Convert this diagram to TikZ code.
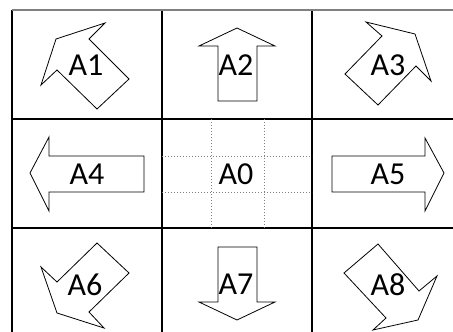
\documentclass[tikz,border=0pt]{standalone}
\usepackage{fontspec}
\setmainfont{Carlito}

\begin{document}
\begin{tikzpicture}[x=1pt,y=-1pt,
    cellline/.style={line width=1.2pt},
    topline/.style={line width=1.6pt,gray},
    subgrid/.style={gray,line width=0.6pt,dash pattern=on 0.8pt off 2.2pt},
    arrowshape/.style={line width=0.8pt,line join=miter},
    dirlabel/.style={inner sep=0pt,font=\fontsize{32}{38}\selectfont}]
    \useasboundingbox (0,0) rectangle (453,332);
    \clip (0,0) rectangle (453,332);
    \foreach \x in {12,162,312,462}
       \draw[cellline] (\x,10) -- (\x,337);
    \foreach \y in {119,228,337}
       \draw[cellline] (12,\y) -- (462,\y);
    \draw[topline] (12,10) -- (462,10);
    \foreach \x in {211,264}
       \draw[subgrid] (\x,119) -- (\x,228);
    \foreach \y in {156,192}
       \draw[subgrid] (162,\y) -- (312,\y);
    % straight arrows
    \draw[arrowshape] (237,28) -- (275,46) -- (257,46) -- (257,101) -- (218,101) -- (218,46) -- (199,46) -- cycle;
    \draw[arrowshape] (237,320) -- (275,302) -- (257,302) -- (257,247) -- (218,247) -- (218,302) -- (199,302) -- cycle;
    \draw[arrowshape] (30,173) -- (49,137) -- (49,156) -- (144,156) -- (144,192) -- (49,192) -- (49,211) -- cycle;
    \draw[arrowshape] (444,173) -- (425,138) -- (425,156) -- (332,156) -- (332,192) -- (425,192) -- (425,211) -- cycle;
    % diagonal arrows
    \draw[arrowshape] (56,39) -- (105,23) -- (89,39) -- (129,79) -- (97,109) -- (57,70) -- (41,85) -- cycle;
    \draw[arrowshape] (415,34) -- (366,22) -- (382,36) -- (345,74) -- (378,105) -- (416,66) -- (431,81) -- cycle;
    \draw[arrowshape] (57,313) -- (41,267) -- (57,282) -- (97,243) -- (129,273) -- (89,312) -- (104,328) -- cycle;
    \draw[arrowshape] (418,320) -- (437,276) -- (419,291) -- (378,244) -- (344,273) -- (386,318) -- (373,330) -- cycle;
    \foreach \n/\x/\y in {0/236/174,1/86/65,2/236/65,3/388/65,4/87/174,5/388/174,6/85/285,7/236/284,8/388/285}
       \node[dirlabel] (a\n) at (\x,\y) {A\n};
\end{tikzpicture}
\end{document}
